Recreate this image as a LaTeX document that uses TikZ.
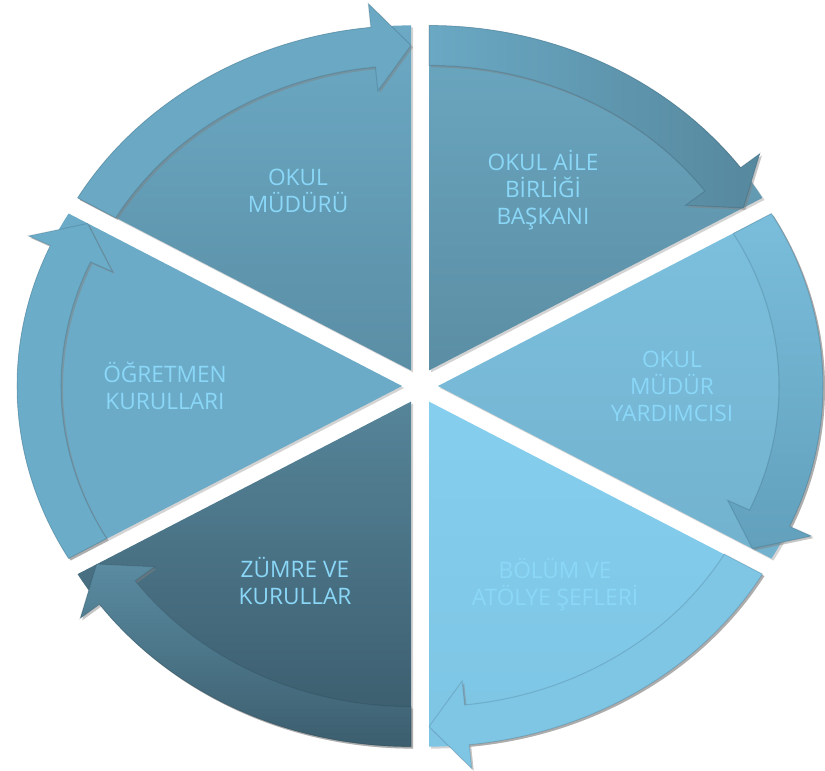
\documentclass[tikz,border=0pt]{standalone}
\usepackage{fontspec}
\setmainfont{Open Sans}
\usetikzlibrary{shadows}

\begin{document}
\begin{tikzpicture}[x=0.75pt,y=0.75pt,yscale=-1,xscale=1]
%set diagram left start at 0, and has height of 771
\useasboundingbox (0,0) rectangle (825,771);

\tikzset{
  seg/.style={draw=none, drop shadow={shadow xshift=1.5pt, shadow yshift=-1.5pt, opacity=0.35}},
  band/.style={draw={rgb, 255:red, 20; green, 45; blue, 60 }, draw opacity=0.15, line width=0.8,
    drop shadow={shadow xshift=1.5pt, shadow yshift=-1.5pt, opacity=0.45}},
  lbl/.style={align=center, inner sep=0.75pt, text={rgb, 255:red, 138; green, 215; blue, 248 },
    font=\fontsize{17}{20.3}\selectfont}
}

%Shape: Sector [id:okul_muduru] 
\draw [seg, shift={(411,370.4)}, top color={rgb, 255:red, 108; green, 169; blue, 196 }, bottom color={rgb, 255:red, 90; green, 142; blue, 165 }]    (0,0) -- (-150:385 and 345) arc[start angle=-150, end angle=-90, x radius=385, y radius=345] -- cycle ;
%Shape: Arc Arrow [id:okul_muduru_arrow] 
\draw [band, shift={(411,370.4)}, fill={rgb, 255:red, 106; green, 168; blue, 195 }]    (-150:385 and 345) arc[start angle=-150, end angle=-96, x radius=385, y radius=345] -- (-96:409 and 369) -- (-90:363 and 325) -- (-96:317 and 281) -- (-96:341 and 305) arc[start angle=-96, end angle=-150, x radius=341, y radius=305] -- cycle ;

%Shape: Sector [id:aile_birligi] 
\draw [seg, shift={(429,370.4)}, top color={rgb, 255:red, 107; green, 167; blue, 193 }, bottom color={rgb, 255:red, 91; green, 142; blue, 164 }]    (0,0) -- (-90:385 and 345) arc[start angle=-90, end angle=-30, x radius=385, y radius=345] -- cycle ;
%Shape: Arc Arrow [id:aile_birligi_arrow] 
\draw [band, shift={(429,370.4)}, left color={rgb, 255:red, 106; green, 168; blue, 195 }, right color={rgb, 255:red, 86; green, 136; blue, 158 }]    (-90:385 and 345) arc[start angle=-90, end angle=-36, x radius=385, y radius=345] -- (-36:409 and 369) -- (-30:363 and 325) -- (-36:317 and 281) -- (-36:341 and 305) arc[start angle=-36, end angle=-90, x radius=341, y radius=305] -- cycle ;

%Shape: Sector [id:mudur_yardimcisi] 
\draw [seg, shift={(438,386)}, top color={rgb, 255:red, 124; green, 192; blue, 222 }, bottom color={rgb, 255:red, 114; green, 178; blue, 206 }]    (0,0) -- (-30:385 and 345) arc[start angle=-30, end angle=30, x radius=385, y radius=345] -- cycle ;
%Shape: Arc Arrow [id:mudur_yardimcisi_arrow] 
\draw [band, shift={(438,386)}, top color={rgb, 255:red, 122; green, 190; blue, 220 }, bottom color={rgb, 255:red, 98; green, 160; blue, 188 }]    (-30:385 and 345) arc[start angle=-30, end angle=24, x radius=385, y radius=345] -- (24:409 and 369) -- (30:363 and 325) -- (24:317 and 281) -- (24:341 and 305) arc[start angle=24, end angle=-30, x radius=341, y radius=305] -- cycle ;

%Shape: Sector [id:bolum_sefleri] 
\draw [seg, shift={(429,401.6)}, top color={rgb, 255:red, 133; green, 206; blue, 237 }, bottom color={rgb, 255:red, 126; green, 197; blue, 228 }]    (0,0) -- (30:385 and 345) arc[start angle=30, end angle=90, x radius=385, y radius=345] -- cycle ;
%Shape: Arc Arrow [id:bolum_sefleri_arrow] 
\draw [band, shift={(429,401.6)}, fill={rgb, 255:red, 127; green, 198; blue, 229 }]    (30:385 and 345) arc[start angle=30, end angle=84, x radius=385, y radius=345] -- (84:409 and 369) -- (90:363 and 325) -- (84:317 and 281) -- (84:341 and 305) arc[start angle=84, end angle=30, x radius=341, y radius=305] -- cycle ;

%Shape: Sector [id:zumre] 
\draw [seg, shift={(411,401.6)}, top color={rgb, 255:red, 86; green, 132; blue, 153 }, bottom color={rgb, 255:red, 58; green, 91; blue, 107 }]    (0,0) -- (90:385 and 345) arc[start angle=90, end angle=150, x radius=385, y radius=345] -- cycle ;
%Shape: Arc Arrow [id:zumre_arrow] 
\draw [band, shift={(411,401.6)}, top color={rgb, 255:red, 90; green, 139; blue, 161 }, bottom color={rgb, 255:red, 60; green, 94; blue, 110 }]    (90:385 and 345) arc[start angle=90, end angle=144, x radius=385, y radius=345] -- (144:409 and 369) -- (150:363 and 325) -- (144:317 and 281) -- (144:341 and 305) arc[start angle=144, end angle=90, x radius=341, y radius=305] -- cycle ;

%Shape: Sector [id:ogretmen] 
\draw [seg, shift={(402,386)}, fill={rgb, 255:red, 108; green, 171; blue, 199 }]    (0,0) -- (150:385 and 345) arc[start angle=150, end angle=210, x radius=385, y radius=345] -- cycle ;
%Shape: Arc Arrow [id:ogretmen_arrow] 
\draw [band, shift={(402,386)}, fill={rgb, 255:red, 107; green, 172; blue, 201 }]    (150:385 and 345) arc[start angle=150, end angle=204, x radius=385, y radius=345] -- (204:409 and 369) -- (210:363 and 325) -- (204:317 and 281) -- (204:341 and 305) arc[start angle=204, end angle=150, x radius=341, y radius=305] -- cycle ;

% Text Node
\draw (298,191) node (muduru) [lbl] {OKUL\\MÜDÜRÜ};
% Text Node
\draw (543,190) node (aile) [lbl] {OKUL AİLE\\BİRLİĞİ\\BAŞKANI};
% Text Node
\draw (672,386) node (yardimci) [lbl] {OKUL\\MÜDÜR\\YARDIMCISI};
% Text Node
\draw (555,585) node (bolum) [lbl] {BÖLÜM VE\\ATÖLYE ŞEFLERİ};
% Text Node
\draw (295,581) node (zumre) [lbl] {ZÜMRE VE\\KURULLAR};
% Text Node
\draw (165,386) node (ogretmen) [lbl] {ÖĞRETMEN\\KURULLARI};

\end{tikzpicture}
\end{document}
